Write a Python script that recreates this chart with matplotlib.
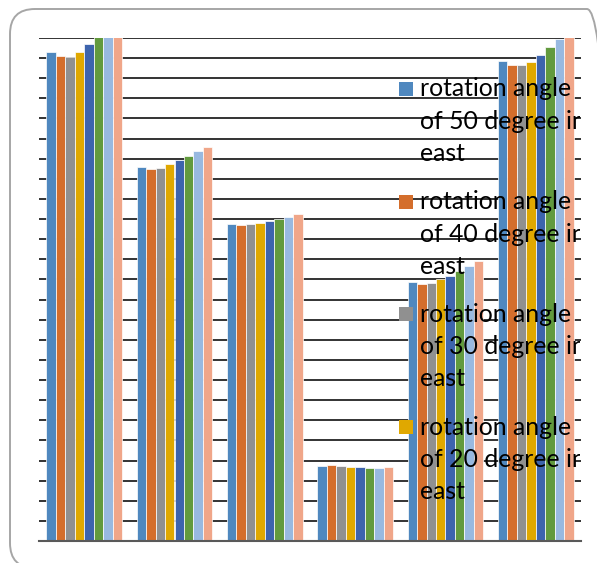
import matplotlib
matplotlib.use("Agg")
import matplotlib.pyplot as plt
import numpy as np
from matplotlib.patches import Rectangle, FancyBboxPatch
from matplotlib.transforms import IdentityTransform

# Six measurement groups, eight rotation-angle series each
groups = ["G1", "G2", "G3", "G4", "G5", "G6"]
series_names = [
    "rotation angle of 50 degree in east",
    "rotation angle of 40 degree in east",
    "rotation angle of 30 degree in east",
    "rotation angle of 20 degree in east",
    "rotation angle of 10 degree in east",
    "rotation angle of 0 degree",
    "rotation angle of 10 degree in west",
    "rotation angle of 20 degree in west",
]
colors = ["#4F88BF", "#D46E2C", "#909090", "#E0A800",
          "#3D64AD", "#629A3E", "#98B9E0", "#F0A689"]

s50e = [24.32, 18.57, 15.76, 3.74, 12.89, 23.84]
s40e = [24.09, 18.49, 15.72, 3.78, 12.76, 23.66]
s30e = [24.07, 18.54, 15.76, 3.74, 12.82, 23.64]
s20e = [24.30, 18.74, 15.82, 3.69, 13.01, 23.82]
s10e = [24.69, 18.95, 15.90, 3.68, 13.19, 24.17]
s00 = [25.40, 19.15, 15.99, 3.64, 13.43, 24.57]
s10w = [25.80, 19.37, 16.10, 3.64, 13.68, 24.97]
s20w = [26.20, 19.60, 16.27, 3.66, 13.93, 25.40]
values = [s50e, s40e, s30e, s20e, s10e, s00, s10w, s20w]

W, H, DPI = 597, 563, 100
fig = plt.figure(figsize=(W / DPI, H / DPI), dpi=DPI)

# rounded chart frame (display pixels, origin bottom-left)
pad = 25
left, right, bottom, top = 10, 612, -5, H - 9
frame = FancyBboxPatch((left + pad, bottom + pad), right - left - 2 * pad,
                       top - bottom - 2 * pad,
                       boxstyle="round,pad=%d" % pad, transform=IdentityTransform(),
                       facecolor="none", edgecolor="#A6A6A6", linewidth=1.4,
                       zorder=-1)
fig.patches.append(frame)

ax = fig.add_axes([39 / W, 22 / H, 542 / W, 503 / H])
ax.set_facecolor("none")

x = np.arange(len(groups))
bw = 0.838 / len(values)
for i, (vals, c) in enumerate(zip(values, colors)):
    off = (i - (len(values) - 1) / 2) * bw
    ax.bar(x + off, vals, width=bw, color=c, edgecolor="white",
           linewidth=0.5, zorder=3)

ax.set_xlim(-0.5, len(groups) - 0.5)
ax.set_ylim(0, 25)
ax.set_yticks(np.arange(0, 26, 1))
ax.yaxis.grid(True, color="#111111", linewidth=1.2, zorder=1)
ax.set_axisbelow(True)
ax.tick_params(left=False, bottom=False, labelleft=False, labelbottom=False)
for side in ["left", "right", "top"]:
    ax.spines[side].set_visible(False)
ax.spines["bottom"].set_color("#595959")
ax.spines["bottom"].set_linewidth(1.5)
ax.spines["bottom"].set_zorder(4)

# legend entries, wrapped and clipped at the plot edge
clip = Rectangle((0, 0), 580, H, transform=IdentityTransform(),
                 facecolor="none", edgecolor="none")
fig.patches.append(clip)
for k, deg in enumerate((50, 40, 30, 20)):
    ytop = 89 + k * 112.7
    sq = Rectangle((399 / W, 1 - (ytop + 7) / H), 14 / W, 14 / H,
                   transform=fig.transFigure, facecolor=colors[k],
                   edgecolor="none", zorder=10)
    fig.patches.append(sq)
    lines = ["rotation angle", "of %d degree in" % deg, "east"]
    for j, line in enumerate(lines):
        t = fig.text(420 / W, 1 - (ytop + j * 32.3) / H, line, ha="left",
                     va="center", fontsize=17.8, family="Lato", color="black",
                     zorder=10)
        t.set_clip_path(clip)
        t.set_clip_on(True)

fig.savefig("out.png", dpi=DPI)
